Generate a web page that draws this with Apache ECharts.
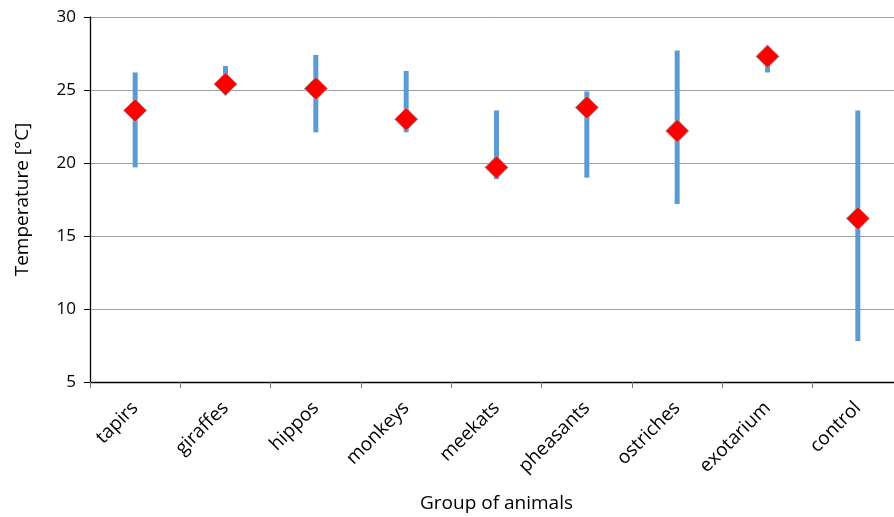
<!DOCTYPE html>
<html>
<head>
<meta charset="utf-8">
<script src="https://cdn.jsdelivr.net/npm/echarts@6/dist/echarts.min.js"></script>
<style>
  html, body { margin: 0; padding: 0; background: #fff; }
  #chart { width: 894px; height: 517px; }
</style>
</head>
<body>
<div id="chart"></div>
<script>
// Temperature ranges and mean per animal group
const groups = ['tapirs', 'giraffes', 'hippos', 'monkeys', 'meekats', 'pheasants', 'ostriches', 'exotarium', 'control'];
const rangeLow  = [19.7, 25.2, 22.1, 22.1, 18.9, 19.0, 17.2, 26.2, 7.8];
const rangeHigh = [26.2, 26.65, 27.4, 26.3, 23.6, 24.9, 27.7, 27.5, 23.6];
const meanTemp  = [23.6, 25.4, 25.1, 23.0, 19.7, 23.8, 22.2, 27.3, 16.2];
const yTicks = { min: 5, max: 30, interval: 5 };

const FONT = '"Open Sans", sans-serif';
const chart = echarts.init(document.getElementById('chart'), null, { renderer: 'canvas' });

chart.setOption({
  animation: false,
  backgroundColor: '#ffffff',
  // the plot runs slightly past the right edge of the canvas
  grid: { left: 90, top: 17, width: 813, height: 365, containLabel: false, outerBoundsMode: 'none' },
  xAxis: {
    type: 'category',
    data: groups,
    boundaryGap: true,
    name: 'Group of animals',
    nameLocation: 'middle',
    nameGap: 112,
    nameTextStyle: { fontFamily: FONT, fontSize: 19, color: '#000' },
    axisLine: { lineStyle: { color: '#000', width: 1.3 } },
    axisTick: { show: true, length: 6, lineStyle: { color: '#777' } },
    axisLabel: { rotate: 45, fontFamily: FONT, fontSize: 19, color: '#000', margin: 23, interval: 0 },
    splitLine: { show: false }
  },
  yAxis: {
    type: 'value',
    min: yTicks.min,
    max: yTicks.max,
    interval: yTicks.interval,
    name: 'Temperature [°C]',
    nameLocation: 'middle',
    nameGap: 58,
    nameTextStyle: { fontFamily: FONT, fontSize: 19, color: '#000' },
    axisLine: { show: true, lineStyle: { color: '#000', width: 1.3 } },
    axisTick: { show: true, length: 6, lineStyle: { color: '#000' } },
    axisLabel: { fontFamily: FONT, fontSize: 17, color: '#000', margin: 14 },
    splitLine: { show: true, lineStyle: { color: '#a0a0a0', width: 1 } }
  },
  series: [
    {
      // vertical range bar from low to high
      type: 'custom',
      data: groups.map((g, i) => [i, rangeLow[i], rangeHigh[i]]),
      encode: { x: 0, y: [1, 2] },
      renderItem: function (params, api) {
        const lo = api.coord([api.value(0), api.value(1)]);
        const hi = api.coord([api.value(0), api.value(2)]);
        const w = 5;
        return {
          type: 'rect',
          shape: { x: lo[0] - w / 2, y: hi[1], width: w, height: lo[1] - hi[1] },
          style: { fill: '#5b9bd5' }
        };
      },
      z: 2
    },
    {
      type: 'scatter',
      data: meanTemp.map((v, i) => [i, v]),
      symbol: 'diamond',
      symbolSize: [23, 23],
      itemStyle: { color: '#ff0000', opacity: 1, borderColor: '#a0a0a0', borderWidth: 1 },
      emphasis: { disabled: true },
      z: 3
    }
  ]
});
</script>
</body>
</html>
